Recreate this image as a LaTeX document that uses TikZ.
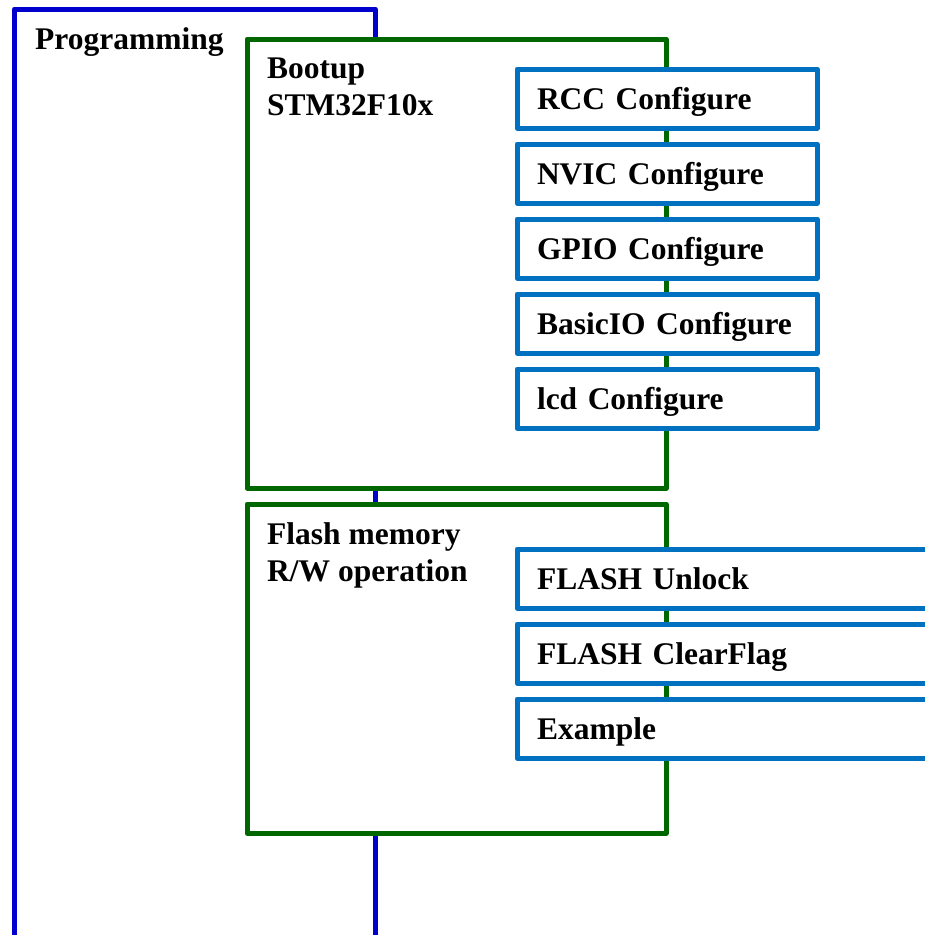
\documentclass[tikz,border=0pt]{standalone}
\usepackage{fontspec}
\setmainfont{Liberation Serif}
\definecolor{progblue}{RGB}{0,0,204}
\definecolor{stagegreen}{RGB}{0,102,0}
\definecolor{callblue}{RGB}{0,112,192}
\begin{document}
\begin{tikzpicture}[x=1pt,y=1pt,
  frame/.style={draw, line width=5pt, line join=round, fill=white,
    inner sep=0pt, outer sep=0pt, anchor=north west},
  outerbox/.style={frame, draw=progblue},
  stagebox/.style={frame, draw=stagegreen, minimum width=419pt},
  callbox/.style={frame, draw=callblue, minimum height=59pt,
    text width=260pt, align=left, inner xsep=20pt,
    text height=22pt, text depth=0pt,
    font=\fontsize{31.5}{37.5}\selectfont\bfseries},
  lbl/.style={anchor=base west, inner sep=0pt, align=left,
    font=\fontsize{31.5}{37.5}\selectfont\bfseries}
]
\useasboundingbox (0,0) rectangle (925,-935);
\clip (0,0) rectangle (925,-935);

% outer programming frame
\node[outerbox, minimum width=360.5pt, minimum height=990pt] (prog) at (14.5,-9) {};
\node[lbl] (progtxt) at (35,-49) {Programming};

% bootup stage (base anchor sits on the last text line)
\node[stagebox, minimum height=449pt] (boot) at (247,-39) {};
\node[lbl] (boottxt) at (267,-115.5) {Bootup\\STM32F10x};
\node[callbox] (rcc)   at (517,-69)  {RCC Configure};
\node[callbox] (nvic)  at (517,-144) {NVIC Configure};
\node[callbox] (gpio)  at (517,-219) {GPIO Configure};
\node[callbox] (bio)   at (517,-294) {BasicIO Configure};
\node[callbox] (lcd)   at (517,-369) {lcd Configure};

% flash stage
\node[stagebox, minimum height=329pt] (flash) at (247,-504) {};
\node[lbl] (flashtxt) at (267,-581.5) {Flash memory\\R/W operation};
\node[callbox, text width=410pt] (unlock) at (517,-549) {FLASH Unlock};
\node[callbox, text width=410pt] (clear)  at (517,-624) {FLASH ClearFlag};
\node[callbox, text width=410pt] (example) at (517,-699) {Example};
\end{tikzpicture}
\end{document}
